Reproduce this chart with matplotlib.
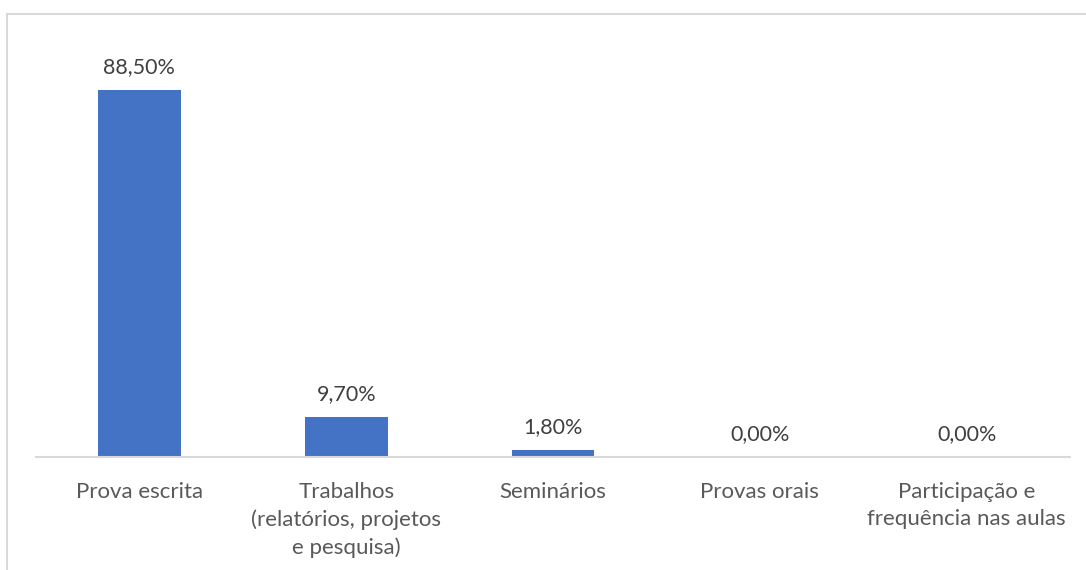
import matplotlib.pyplot as plt
from matplotlib.patches import Rectangle

categorias = ['Prova escrita',
              'Trabalhos\n(relatórios, projetos\ne pesquisa)',
              'Seminários',
              'Provas orais',
              'Participação e\nfrequência nas aulas']
percentuais = [88.5, 9.7, 1.8, 0.0, 0.0]
rotulos = ['88,50%', '9,70%', '1,80%', '0,00%', '0,00%']

plt.rcParams['font.family'] = ['Lato', 'DejaVu Sans']

fig = plt.figure(figsize=(10.86, 5.7), dpi=100)

# moldura cinza do gráfico (cortada à direita e embaixo)
fig.patches.append(Rectangle((7 / 1086, -0.05), 1.2, (570 - 14) / 570 + 0.05,
                             transform=fig.transFigure, fill=False,
                             edgecolor='#D9D9D9', linewidth=1.5))

ax = fig.add_axes([36 / 1086, 113 / 570, 1034 / 1086, 414.7 / 570])
x = range(len(categorias))
barras = ax.bar(x, percentuais, width=0.4, color='#4472C4')

for b, txt in zip(barras, rotulos):
    ax.annotate(txt, (b.get_x() + b.get_width() / 2, b.get_height()),
                xytext=(0, 9), textcoords='offset points',
                ha='center', va='bottom', fontsize=15.5, color='#404040')

ax.set_xlim(-0.5, len(categorias) - 0.5)
ax.set_ylim(0, 100)
ax.set_xticks(list(x))
ax.set_xticklabels(categorias, fontsize=16, color='#595959', linespacing=1.45)
ax.tick_params(axis='x', length=0, pad=18)
ax.set_yticks([])

for lado in ['top', 'left', 'right']:
    ax.spines[lado].set_visible(False)
ax.spines['bottom'].set_color('#D9D9D9')
ax.spines['bottom'].set_linewidth(1.5)

fig.savefig('out.png', dpi=100)
